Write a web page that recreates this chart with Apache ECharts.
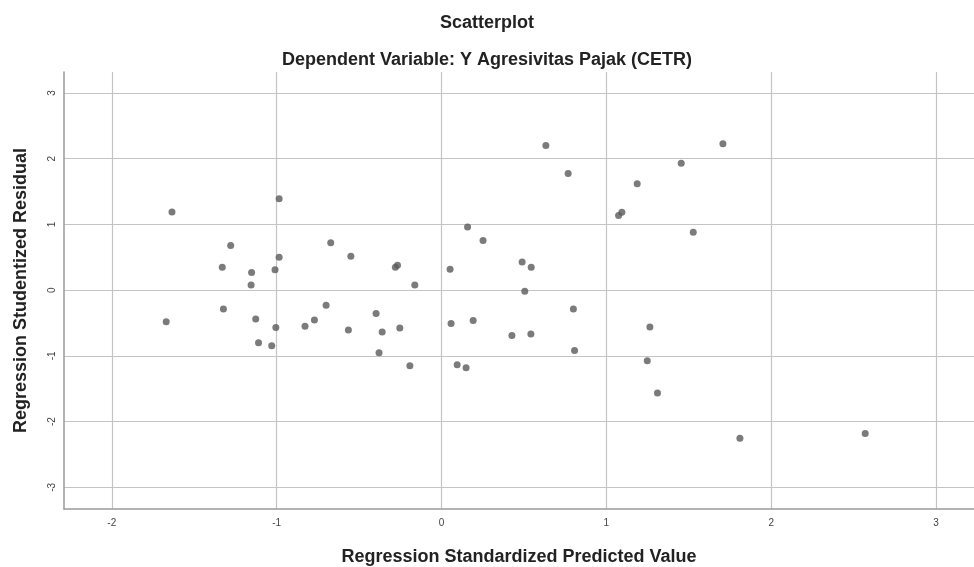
<!DOCTYPE html>
<html>
<head>
<meta charset="utf-8">
<script src="https://cdn.jsdelivr.net/npm/echarts@6/dist/echarts.min.js"></script>
<style>
  html, body { margin: 0; padding: 0; background: #fff; }
  #chart-scatter { width: 974px; height: 567px; }
</style>
</head>
<body>
<div id="chart-scatter"></div>
<script>
// standardized predicted value (x) vs studentized residual (y)
const predicted = [
  -1.635, -1.279, -1.33, -1.152, -1.155, -1.01, -0.985, -0.985, -0.672, -0.55,
  -1.67, -1.323, -1.127, -1.11, -1.03, -1.005, -0.828, -0.771, -0.70, -0.565,
  -0.28, -0.267, -0.162, 0.052, 0.158, 0.252, 0.489, 0.544, 0.505, 0.633,
  0.768, 1.187, 1.074, 1.094, -0.397, -0.36, -0.253, -0.379, -0.192, 0.058,
  0.192, 0.095, 0.149, 0.427, 0.542, 0.80, 0.807, 1.264, 1.248, 1.31,
  1.707, 1.454, 1.527, 1.81, 2.57
];
const residual = [
  1.19, 0.68, 0.35, 0.27, 0.08, 0.31, 0.50, 1.39, 0.72, 0.515,
  -0.48, -0.287, -0.44, -0.80, -0.846, -0.567, -0.55, -0.455, -0.23, -0.607,
  0.35, 0.38, 0.08, 0.32, 0.96, 0.755, 0.43, 0.35, -0.018, 2.20,
  1.776, 1.62, 1.136, 1.186, -0.354, -0.637, -0.577, -0.953, -1.15, -0.506,
  -0.46, -1.136, -1.18, -0.689, -0.668, -0.287, -0.917, -0.56, -1.075, -1.565,
  2.23, 1.93, 0.88, -2.253, -2.18
];
const xTicks = [-2, -1, 0, 1, 2, 3];
const yTicks = [-3, -2, -1, 0, 1, 2, 3];

const points = predicted.map((x, i) => [x, residual[i]]);

const chart = echarts.init(document.getElementById('chart-scatter'));
const font = 'Liberation Sans, Arial, sans-serif';

chart.setOption({
  animation: false,
  title: [
    {
      text: 'Scatterplot',
      left: 'center',
      top: 9,
      textStyle: { fontFamily: font, fontSize: 18, fontWeight: 'bold', color: '#222' }
    },
    {
      text: 'Dependent Variable: Y Agresivitas Pajak (CETR)',
      left: 'center',
      top: 46,
      textStyle: { fontFamily: font, fontSize: 18, fontWeight: 'bold', color: '#222' }
    }
  ],
  grid: {
    left: 64,
    right: 0,
    top: 72,
    bottom: 58,
    containLabel: false,
    outerBoundsMode: 'none'
  },
  xAxis: {
    type: 'value',
    min: -2.29,
    max: 3.23,
    name: 'Regression Standardized Predicted Value',
    nameLocation: 'middle',
    nameGap: 39,
    nameTextStyle: { fontFamily: font, fontSize: 18, fontWeight: 'bold', color: '#222' },
    axisLine: { show: true, onZero: false, lineStyle: { color: '#9a9a9a', width: 1.5 } },
    axisTick: { show: false, customValues: xTicks },
    axisLabel: { customValues: xTicks, margin: 9, fontFamily: font, fontSize: 10, color: '#444' },
    splitLine: { show: true, lineStyle: { color: '#c4c4c4', width: 1.2 } }
  },
  yAxis: {
    type: 'value',
    min: -3.33,
    max: 3.32,
    name: 'Regression Studentized Residual',
    nameLocation: 'middle',
    nameGap: 34,
    nameTextStyle: { fontFamily: font, fontSize: 18, fontWeight: 'bold', color: '#222' },
    axisLine: { show: true, onZero: false, lineStyle: { color: '#9a9a9a', width: 1.5 } },
    axisTick: { show: false, customValues: yTicks },
    axisLabel: { customValues: yTicks, margin: 7, rotate: 90, fontFamily: font, fontSize: 10, color: '#444' },
    splitLine: { show: true, lineStyle: { color: '#c4c4c4', width: 1.2 } }
  },
  series: [
    {
      type: 'scatter',
      data: points,
      symbol: 'circle',
      symbolSize: 7,
      itemStyle: { color: '#5a5a5a' }
    }
  ]
});
</script>
</body>
</html>
